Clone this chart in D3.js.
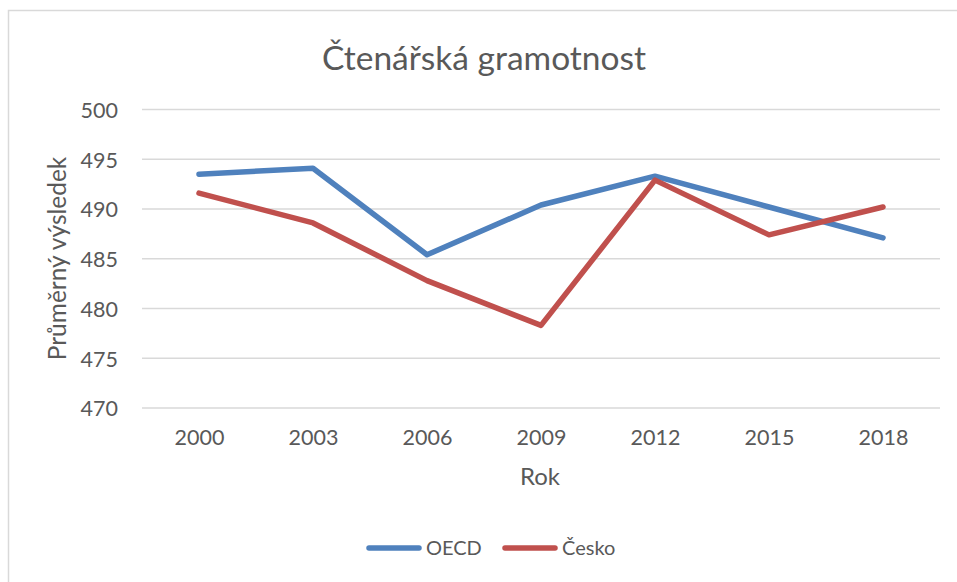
<!DOCTYPE html>
<html>
<head>
<meta charset="utf-8">
<script src="https://cdn.jsdelivr.net/npm/d3@7"></script>
<style>
  html, body { margin: 0; padding: 0; background: #fff; }
  svg { display: block; font-family: Lato, "Open Sans", sans-serif; }
</style>
</head>
<body>
<svg id="chart" width="957" height="582"></svg>
<script>
const years = ["2000", "2003", "2006", "2009", "2012", "2015", "2018"];
const oecd = [493.5, 494.1, 485.4, 490.4, 493.3, 490.2, 487.1];
const cesko = [491.6, 488.6, 482.8, 478.3, 492.9, 487.4, 490.2];
const yTicks = [470, 475, 480, 485, 490, 495, 500];
const seriesNames = ["OECD", "Česko"];
const seriesColors = ["#4f81bd", "#c0504d"];
const title = "Čtenářská gramotnost";
const xTitle = "Rok";
const yTitle = "Průměrný výsledek";

const svg = d3.select("#chart");
const textColor = "#595959";
const font = "Lato, sans-serif";

// outer frame
svg.append("rect")
  .attr("x", 8.5).attr("y", 10.5)
  .attr("width", 960).attr("height", 600)
  .attr("fill", "none").attr("stroke", "#d9d9d9").attr("stroke-width", 1.5);

const plot = { left: 142, right: 940, top: 109.5, bottom: 408 };

const x = d3.scalePoint().domain(years).range([plot.left, plot.right]).padding(0.5);
const y = d3.scaleLinear().domain([470, 500]).range([plot.bottom, plot.top]);

// gridlines
svg.append("g").selectAll("line").data(yTicks).join("line")
  .attr("x1", plot.left).attr("x2", plot.right)
  .attr("y1", d => y(d)).attr("y2", d => y(d))
  .attr("stroke", "#d9d9d9").attr("stroke-width", 1.5);

// y axis labels
const yAxis = d3.axisLeft(y).tickValues(yTicks).tickSize(0).tickPadding(0);
const yg = svg.append("g").attr("transform", `translate(${118},0)`).call(yAxis);
yg.select(".domain").remove();
yg.selectAll("text").attr("fill", textColor).attr("dy", "0.36em")
  .style("font-size", "21.5px").style("font-family", font);

// x axis labels
const xAxis = d3.axisBottom(x).tickSize(0).tickPadding(0);
const xg = svg.append("g").attr("transform", `translate(0,${430})`).call(xAxis);
xg.select(".domain").remove();
xg.selectAll("text").attr("fill", textColor)
  .style("font-size", "21.5px").style("font-family", font);

// lines
const line = d3.line().x((d, i) => x(years[i])).y(d => y(d));
[oecd, cesko].forEach((s, k) => {
  svg.append("path").datum(s)
    .attr("d", line)
    .attr("fill", "none")
    .attr("stroke", seriesColors[k])
    .attr("stroke-width", 5.5)
    .attr("stroke-linecap", "round")
    .attr("stroke-linejoin", "round");
});

// title
svg.append("text").attr("x", 484).attr("y", 70)
  .attr("text-anchor", "middle").attr("fill", textColor)
  .style("font-size", "33.5px").text(title);

// axis titles
svg.append("text").attr("x", 540).attr("y", 485)
  .attr("text-anchor", "middle").attr("fill", textColor)
  .style("font-size", "24px").text(xTitle);
svg.append("text")
  .attr("transform", `translate(66,258.5) rotate(-90)`)
  .attr("text-anchor", "middle").attr("fill", textColor)
  .style("font-size", "24.5px").text(yTitle);

// legend
const legendX = [366, 502];
seriesNames.forEach((n, k) => {
  const g = svg.append("g");
  g.append("line")
    .attr("x1", legendX[k] + 3).attr("x2", legendX[k] + 53)
    .attr("y1", 548).attr("y2", 548)
    .attr("stroke", seriesColors[k]).attr("stroke-width", 5.5)
    .attr("stroke-linecap", "round");
  g.append("text").attr("x", legendX[k] + 60).attr("y", 555)
    .attr("fill", textColor).style("font-size", "20px").text(n);
});
</script>
</body>
</html>
